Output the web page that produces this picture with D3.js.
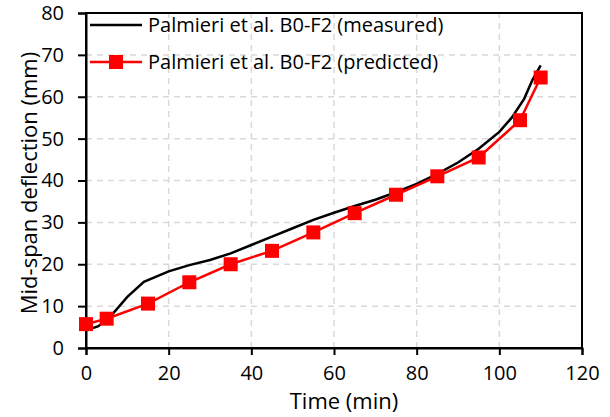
<!DOCTYPE html>
<meta charset='utf-8'>
<style type="text/css">
	body { margin: 0; background: #fff; }
	svg text { font-family: "Open Sans", sans-serif; fill: #000; }
</style>
<body>
<div class="chart"></div>
<script src='https://cdn.jsdelivr.net/npm/d3@7/dist/d3.min.js'></script>
<script>

// measured curve (black line)
var measuredTime = [0, 3, 6, 10, 14, 20, 25, 30, 35, 40, 45, 50, 55, 60, 65, 70, 75, 80, 85, 90, 95, 100, 103, 106, 108, 110];
var measuredDefl = [4.2, 5.2, 7.6, 12.2, 15.8, 18.3, 19.8, 21, 22.6, 24.6, 26.6, 28.6, 30.6, 32.3, 33.9, 35.4, 37.2, 39.2, 41.6, 44.3, 47.6, 51.6, 55, 59.5, 64, 67.5];

// predicted (red squares)
var predictedTime = [0, 5, 15, 25, 35, 45, 55, 65, 75, 85, 95, 105, 110];
var predictedDefl = [5.7, 7, 10.6, 15.7, 20, 23.2, 27.6, 32.2, 36.6, 41, 45.5, 54.4, 64.6];

var xTicks = [0, 20, 40, 60, 80, 100, 120];
var yTicks = [0, 10, 20, 30, 40, 50, 60, 70, 80];
var seriesNames = ['Palmieri et al. B0-F2 (measured)', 'Palmieri et al. B0-F2 (predicted)'];

var width = 610, height = 417,
	margin = {left: 86, right: 28, top: 13, bottom: 69};

var svg = d3.select('.chart')
	.append('svg')
	.attr('width', width)
	.attr('height', height);

var x = d3.scaleLinear().domain([0, 120]).range([margin.left, width - margin.right]);
var y = d3.scaleLinear().domain([0, 80]).range([height - margin.bottom, margin.top]);

// grid
svg.append('g').selectAll('line.vg')
	.data(xTicks.slice(1, -1)).enter().append('line')
	.attr('x1', d => x(d)).attr('x2', d => x(d))
	.attr('y1', y(0)).attr('y2', y(80))
	.attr('stroke', '#d9d9d9').attr('stroke-width', 1.5)
	.attr('stroke-dasharray', '6,5');
svg.append('g').selectAll('line.hg')
	.data(yTicks.slice(1, -1)).enter().append('line')
	.attr('y1', d => y(d)).attr('y2', d => y(d))
	.attr('x1', x(0)).attr('x2', x(120))
	.attr('stroke', '#d9d9d9').attr('stroke-width', 1.5)
	.attr('stroke-dasharray', '6,5');

// frame
svg.append('rect')
	.attr('x', x(0)).attr('y', y(80))
	.attr('width', x(120) - x(0)).attr('height', y(0) - y(80))
	.attr('fill', 'none').attr('stroke', '#000').attr('stroke-width', 2);

// axes
var xAxis = svg.append('g')
	.attr('transform', 'translate(0,' + y(0) + ')')
	.call(d3.axisBottom(x).tickValues(xTicks).tickSize(7).tickPadding(11));
var yAxis = svg.append('g')
	.attr('transform', 'translate(' + x(0) + ',0)')
	.call(d3.axisLeft(y).tickValues(yTicks).tickSize(8).tickPadding(14));

[xAxis, yAxis].forEach(function(a){
	a.select('.domain').attr('stroke', '#000').attr('stroke-width', 2);
	a.selectAll('.tick line').attr('stroke', '#000').attr('stroke-width', 2);
	a.selectAll('.tick text').style('font-size', '20px').attr('fill', '#000');
});

// lines
var lineGen = d3.line().x(d => x(d[0])).y(d => y(d[1]));

svg.append('path')
	.datum(measuredTime.map((t, i) => [t, measuredDefl[i]]))
	.attr('d', lineGen)
	.attr('fill', 'none').attr('stroke', '#000').attr('stroke-width', 2.5);

var pred = predictedTime.map((t, i) => [t, predictedDefl[i]]);
svg.append('path')
	.datum(pred)
	.attr('d', lineGen)
	.attr('fill', 'none').attr('stroke', '#ff0000').attr('stroke-width', 2.5);

svg.append('g').selectAll('rect')
	.data(pred).enter().append('rect')
	.attr('x', d => x(d[0]) - 7).attr('y', d => y(d[1]) - 7)
	.attr('width', 14).attr('height', 14)
	.attr('fill', '#ff0000');

// legend
var legend = svg.append('g');
legend.append('line')
	.attr('x1', 90).attr('x2', 142).attr('y1', 25).attr('y2', 25)
	.attr('stroke', '#000').attr('stroke-width', 2.5);
legend.append('line')
	.attr('x1', 90).attr('x2', 142).attr('y1', 62).attr('y2', 62)
	.attr('stroke', '#ff0000').attr('stroke-width', 2.5);
legend.append('rect')
	.attr('x', 109).attr('y', 55).attr('width', 14).attr('height', 14)
	.attr('fill', '#ff0000');
legend.selectAll('text')
	.data(seriesNames).enter().append('text')
	.attr('x', 148).attr('y', (d, i) => 25 + i * 37)
	.attr('dy', '0.35em')
	.style('font-size', '20px')
	.text(d => d);

// axis titles
svg.append('text')
	.attr('x', 344).attr('y', 409)
	.attr('text-anchor', 'middle')
	.style('font-size', '22px')
	.text('Time (min)');
svg.append('text')
	.attr('transform', 'translate(29,' + 183 + ') rotate(-90)')
	.attr('text-anchor', 'middle')
	.attr('dy', '0.35em')
	.style('font-size', '22px')
	.text('Mid-span deflection (mm)');

</script>
</body>
</html>
